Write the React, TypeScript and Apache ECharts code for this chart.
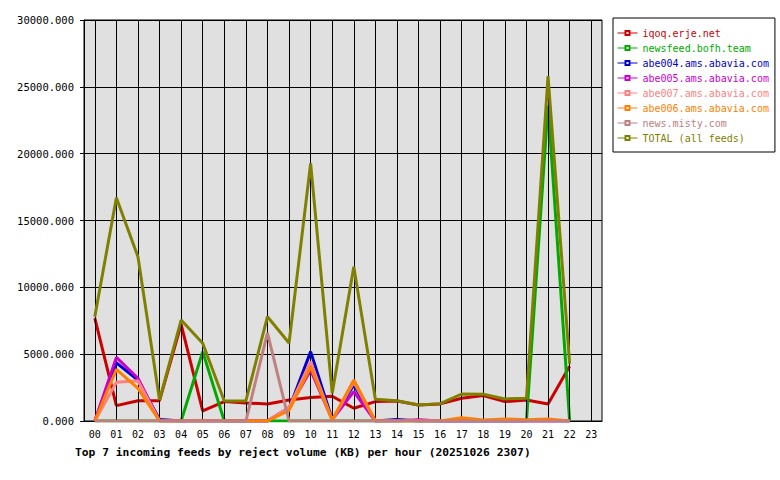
import React, { useEffect, useRef } from "react";
import * as echarts from "echarts";

const hours = ["00","01","02","03","04","05","06","07","08","09","10","11","12","13","14","15","16","17","18","19","20","21","22","23"];

const iqoq = [7700, 1150, 1520, 1520, 7230, 750, 1450, 1350, 1270, 1570, 1750, 1850, 950, 1450, 1500, 1190, 1280, 1700, 1900, 1450, 1570, 1270, 4100, null];
const newsfeed = [0, 0, 0, 0, 0, 5190, 0, 0, 0, 0, 0, 0, 0, 0, 0, 0, 0, 0, 0, 0, 0, 23600, 0, null];
const abe004 = [0, 4350, 3070, 120, 0, 0, 0, 0, 0, 900, 5190, 100, 2690, 0, 110, 0, 0, 0, 0, 0, 0, 0, 0, null];
const abe005 = [0, 4760, 3200, 0, 0, 0, 0, 0, 0, 1000, 3800, 100, 2200, 0, 0, 100, 0, 0, 0, 0, 0, 0, 0, null];
const abe007 = [0, 2890, 3010, 0, 0, 0, 0, 0, 0, 1000, 4440, 50, 2900, 0, 0, 0, 0, 0, 0, 0, 0, 0, 0, null];
const abe006 = [0, 3860, 2440, 0, 0, 0, 0, 0, 0, 800, 4060, 50, 3070, 0, 0, 0, 0, 250, 80, 150, 100, 150, 0, null];
const misty = [0, 0, 0, 0, 0, 0, 0, 0, 6600, 0, 0, 0, 0, 0, 0, 0, 0, 0, 0, 0, 0, 0, 0, null];
const total = [7800, 16700, 12290, 1570, 7550, 5810, 1500, 1500, 7800, 5830, 19270, 2070, 11540, 1620, 1520, 1200, 1300, 2020, 2000, 1650, 1700, 25800, 4300, null];

const names = ["iqoq.erje.net", "newsfeed.bofh.team", "abe004.ams.abavia.com", "abe005.ams.abavia.com", "abe007.ams.abavia.com", "abe006.ams.abavia.com", "news.misty.com", "TOTAL (all feeds)"];
const colors = ["#cc0000", "#00aa00", "#0000cc", "#cc00cc", "#ff8080", "#ff8000", "#c08080", "#808000"];
const seriesData = [iqoq, newsfeed, abe004, abe005, abe007, abe006, misty, total];

const titleText = "Top 7 incoming feeds by reject volume (KB) per hour (20251026 2307)";
const FONT = "DejaVu Sans Mono";

export default function App() {
  const ref = useRef<HTMLDivElement>(null);
  useEffect(() => {
    if (!ref.current) return;
    const chart = echarts.init(ref.current, null, { renderer: "svg" });
    const series: any[] = [
      {
        type: "line",
        name: "__grid",
        z: 1,
        data: hours.map(() => null),
        showSymbol: false,
        silent: true,
        markLine: {
          silent: true,
          symbol: ["none", "none"],
          label: { show: false },
          lineStyle: { color: "#000", type: "solid", width: 1 },
          animation: false,
          data: hours.map((h) => ({ xAxis: h })),
        },
      },
    ];
    seriesData.forEach((d, i) => {
      series.push({
        type: "line",
        name: names[i],
        data: d,
        showSymbol: false,
        symbol: "emptyRect",
        z: 3 + i,
        lineStyle: { color: colors[i], width: 3 },
        itemStyle: { color: colors[i] },
      });
    });
    chart.setOption({
      animation: false,
      backgroundColor: "#ffffff",
      title: {
        text: titleText,
        left: 70,
        top: 442,
        textStyle: { fontFamily: FONT, fontSize: 11.3, fontWeight: "bold", color: "#000" },
      },
      legend: {
        orient: "vertical",
        left: 613,
        top: 18,
        padding: [9, 6, 8, 4],
        backgroundColor: "#ffffff",
        borderColor: "#000",
        borderWidth: 1,
        itemWidth: 20,
        itemHeight: 5,
        itemGap: 3,
        lineStyle: { width: 1 },
        textStyle: { fontFamily: FONT, fontSize: 10, lineHeight: 12 },
        data: names.map((n, i) => ({ name: n, textStyle: { color: colors[i] } })),
      },
      grid: {
        left: 84,
        right: 178,
        top: 20,
        bottom: 59,
        show: true,
        backgroundColor: "#e0e0e0",
        borderColor: "#000",
        borderWidth: 1,
      },
      xAxis: {
        type: "category",
        data: hours,
        boundaryGap: true,
        axisLine: { lineStyle: { color: "#000", width: 1 } },
        axisTick: { alignWithLabel: true, length: 4, lineStyle: { color: "#000" } },
        splitLine: { show: false },
        axisLabel: { fontFamily: FONT, fontSize: 10, color: "#000", margin: 8, interval: 0 },
      },
      yAxis: {
        type: "value",
        min: 0,
        max: 30000,
        interval: 5000,
        axisLine: { show: true, lineStyle: { color: "#000", width: 1 } },
        axisTick: { show: true, length: 4, lineStyle: { color: "#000" } },
        splitLine: { show: true, lineStyle: { color: "#000", width: 1 } },
        axisLabel: {
          fontFamily: FONT,
          fontSize: 10.5,
          color: "#000",
          margin: 10,
          formatter: (v: number) => v.toFixed(3),
        },
      },
      series,
    });
    return () => chart.dispose();
  }, []);
  return <div ref={ref} style={{ width: 780, height: 480, position: "absolute", left: 0, top: 0 }} />;
}
